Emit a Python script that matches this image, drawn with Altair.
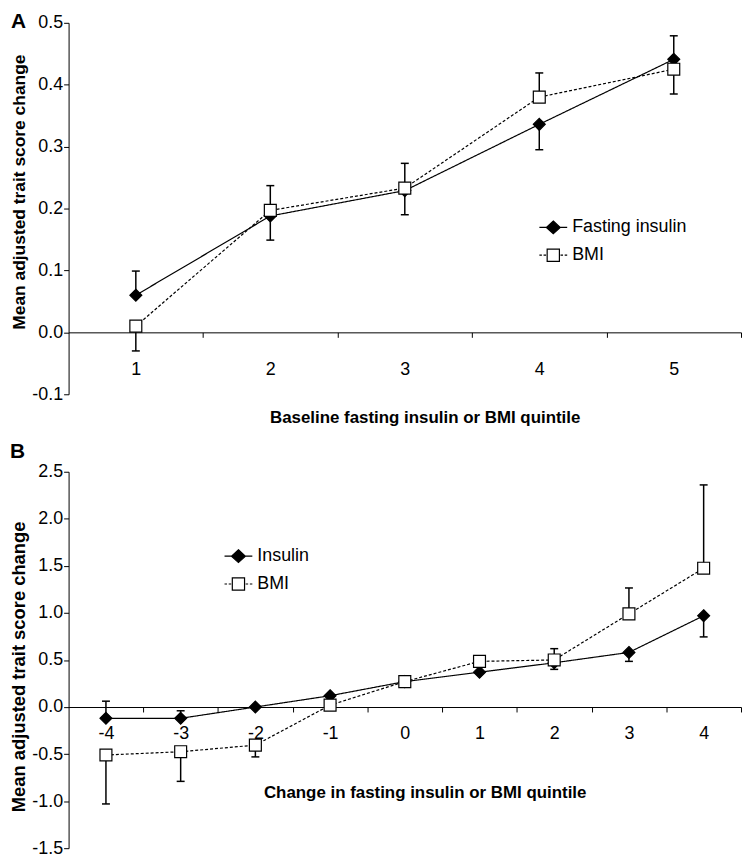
import altair as alt
import pandas as pd

# ---------------- data: panel A ----------------
quintile = [1, 2, 3, 4, 5]
insulin_a = [0.06, 0.188, 0.229, 0.336, 0.441]
insulin_a_bar = [0.099, 0.149, 0.19, 0.295, 0.479]
bmi_a = [0.01, 0.197, 0.233, 0.38, 0.425]
bmi_a_bar = [-0.03, 0.237, 0.273, 0.419, 0.385]
a_series = ["Fasting insulin", "BMI"]
a_yticks = [-0.1, 0.0, 0.1, 0.2, 0.3, 0.4, 0.5]

# ---------------- data: panel B ----------------
change = [-4, -3, -2, -1, 0, 1, 2, 3, 4]
insulin_b = [-0.12, -0.12, 0.0, 0.12, 0.27, 0.37, 0.47, 0.58, 0.97]
insulin_b_bar = [0.062, -0.04, None, None, None, None, 0.40, 0.485, 0.745]
bmi_b = [-0.51, -0.475, -0.405, 0.02, 0.27, 0.485, 0.50, 0.99, 1.475]
bmi_b_bar = [-1.03, -0.79, -0.53, None, None, None, 0.62, 1.265, 2.36]
b_series = ["Insulin", "BMI"]
b_yticks = [-1.5, -1.0, -0.5, 0.0, 0.5, 1.0, 1.5, 2.0, 2.5]

FONT = "Liberation Sans"
DIAMOND = "M0,-1L1,0L0,1L-1,0Z"
SQUARE = "M-1,-1H1V1H-1Z"
LEG_DIAMOND = "M-1,0H1M0,-0.46L0.5,0L0,0.46L-0.5,0Z"
LEG_SQUARE = ("M-1,0H-0.82M-0.7,0H-0.52M0.52,0H0.7M0.82,0H1"
              "M-0.44,-0.44H0.44V0.44H-0.44Z")


def long_table(xs, names, vals, bars):
    rows = []
    for name, v_list, b_list in zip(names, vals, bars):
        for x, v, b in zip(xs, v_list, b_list):
            rows.append({"x": x, "series": name, "y": v, "bar": b})
    return pd.DataFrame(rows)


def panel(df, names, cats, yticks, width, height, xtitle, letter,
          label_pad, title_y, ytitle_size, ytitle_y, legend_x, legend_y,
          legend_row_pad, letter_offset):
    xdom = [cats[0] - 0.5, cats[-1] + 0.5]
    ydom = [yticks[0], yticks[-1]]
    band = width / len(cats)
    zero_from_bottom = height * (0 - ydom[0]) / (ydom[1] - ydom[0])
    tick_vals = [c + 0.5 for c in cats]

    x_enc = alt.X(
        "x:Q",
        scale=alt.Scale(domain=xdom, nice=False, zero=False),
        axis=alt.Axis(
            values=tick_vals,
            labelExpr="datum.value - 0.5 < 0 ? '-' + toString(0.5 - datum.value) : toString(datum.value - 0.5)",
            labelOffset=-band / 2,
            labelFlush=False,
            labelOverlap=False,
            labelBaseline="middle",
            labelPadding=label_pad,
            labelFont=FONT,
            labelFontSize=18,
            labelColor="black",
            tickSize=5,
            tickColor="black",
            domainColor="black",
            grid=False,
            offset=-zero_from_bottom,
            title=xtitle,
            titleFont=FONT,
            titleFontSize=17,
            titleFontWeight="bold",
            titleColor="black",
            titleBaseline="middle",
            titleX=width / 2 + 20,
            titleY=title_y,
        ),
    )
    y_enc = alt.Y(
        "y:Q",
        scale=alt.Scale(domain=ydom, nice=False, zero=False),
        axis=alt.Axis(
            values=yticks,
            labelExpr="datum.value < 0 ? '-' + format(-datum.value, '.1f') : format(datum.value, '.1f')",
            labelFont=FONT,
            labelFontSize=18,
            labelColor="black",
            labelPadding=1,
            tickSize=5,
            tickColor="black",
            domainColor="black",
            grid=False,
            title="Mean adjusted trait score change",
            titleFont=FONT,
            titleFontSize=ytitle_size,
            titleFontWeight="bold",
            titleColor="black",
            titleAlign="center",
            titleX=-40,
            titleY=ytitle_y,
        ),
    )

    base = alt.Chart(df)

    lines = base.mark_line(color="black", strokeWidth=1.2).encode(
        x=x_enc,
        y=y_enc,
        detail="series:N",
        strokeDash=alt.StrokeDash(
            "series:N",
            scale=alt.Scale(domain=names, range=[[1, 0], [3, 2]]),
            legend=None,
        ),
    )
    rules = base.transform_filter("isValid(datum.bar)").mark_rule(
        color="black", strokeWidth=1.5
    ).encode(x=x_enc, y=y_enc, y2="bar:Q")
    caps = base.transform_filter("isValid(datum.bar)").mark_tick(
        orient="horizontal", color="black", size=8, thickness=1.5, opacity=1
    ).encode(x=x_enc, y=alt.Y("bar:Q"))
    points = base.mark_point(
        stroke="black", strokeWidth=1.2, size=144, opacity=1
    ).encode(
        x=x_enc,
        y=y_enc,
        shape=alt.Shape("series:N", scale=alt.Scale(domain=names, range=[DIAMOND, SQUARE]), legend=None),
        fill=alt.Fill("series:N", scale=alt.Scale(domain=names, range=["black", "white"]), legend=None),
    )
    leg_props = dict(
        title=None,
        orient="none",
        legendX=legend_x,
        legendY=legend_y,
        padding=0,
        labelFont=FONT,
        labelFontSize=18,
        labelColor="black",
        labelOffset=4,
        rowPadding=legend_row_pad,
        symbolSize=784,
        symbolStrokeColor="black",
        symbolStrokeWidth=1.2,
        symbolOpacity=1,
    )
    legend_layer = base.transform_filter("false").mark_point(
        strokeWidth=1.2, size=784, opacity=1
    ).encode(
        shape=alt.Shape("series:N", scale=alt.Scale(domain=names, range=[LEG_DIAMOND, LEG_SQUARE]),
                        legend=alt.Legend(**leg_props)),
        fill=alt.Fill("series:N", scale=alt.Scale(domain=names, range=["black", "white"]),
                      legend=alt.Legend(**leg_props)),
        stroke=alt.Stroke("series:N", scale=alt.Scale(domain=names, range=["black", "black"]),
                          legend=alt.Legend(**leg_props)),
    )

    return alt.layer(lines, rules, caps, points, legend_layer).resolve_scale(
        shape="independent", fill="independent", stroke="independent"
    ).properties(
        width=width,
        height=height,
        title=alt.TitleParams(
            letter, anchor="start", frame="bounds", font=FONT, fontSize=21,
            fontWeight="bold", color="black", offset=letter_offset,
        ),
    )


df_a = long_table(quintile, a_series, [insulin_a, bmi_a], [insulin_a_bar, bmi_a_bar])
df_b = long_table(change, b_series, [insulin_b, bmi_b], [insulin_b_bar, bmi_b_bar])

chart_a = panel(df_a, a_series, quintile, a_yticks, 677, 374,
                "Baseline fasting insulin or BMI quintile", "A",
                label_pad=32, title_y=86, ytitle_size=17.5, ytitle_y=170,
                legend_x=473, legend_y=191, legend_row_pad=4, letter_offset=-18)
chart_b = panel(df_b, b_series, change, b_yticks, 677, 379,
                "Change in fasting insulin or BMI quintile", "B",
                label_pad=22, title_y=86, ytitle_size=18.5, ytitle_y=196,
                legend_x=156, legend_y=70, legend_row_pad=4, letter_offset=1)

chart = alt.vconcat(chart_a, chart_b, spacing=78, bounds="flush").properties(
    padding={"left": 2, "top": 0, "right": 0, "bottom": 0}
).configure_view(stroke=None)

chart.save("out.html", embed_options={"renderer": "svg", "actions": False})
